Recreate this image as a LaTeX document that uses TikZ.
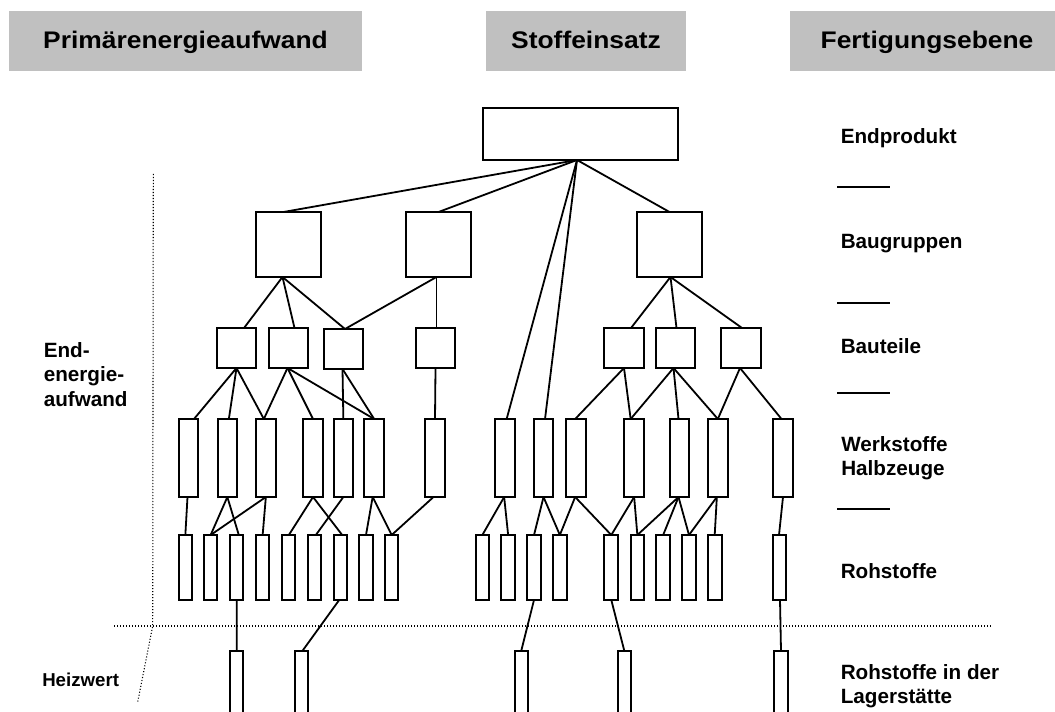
\documentclass[tikz,border=0pt]{standalone}
\usepackage{fontspec}
\setmainfont{Liberation Sans}
\newfontfamily\headfont[FakeStretch=1.1]{Liberation Sans}
\usetikzlibrary{fit,calc}
\definecolor{headgray}{RGB}{192,192,192}

% rectangle node spanning two corners (pixel units, y downwards)
\newcommand\blk[5]{\node[box, fit={(#2,#3) (#4,#5)}] (#1) {};}
% connector from the bottom of one node to the top of another, with x offsets
\newcommand\tielink[4]{\draw[link] ($(#1.south)+(#2,0)$) -- ($(#3.north)+(#4,0)$);}

\begin{document}
\begin{tikzpicture}[x=0.75pt,y=-0.75pt,
  box/.style={draw=black, line width=1.35pt, inner sep=0pt, outer sep=0pt, fill=white},
  headbox/.style={fill=headgray, draw=none, inner sep=0pt, outer sep=0pt},
  headtext/.style={font=\headfont\fontsize{18}{22}\selectfont\bfseries, inner sep=0pt, anchor=base},
  lbl/.style={font=\fontsize{15.5}{18}\selectfont\bfseries, inner sep=0pt, anchor=base west, align=left},
  smalllbl/.style={lbl, font=\fontsize{14}{17}\selectfont\bfseries},
  link/.style={line width=1.35pt},
  dotline/.style={line width=0.8pt, dash pattern=on 0.8pt off 1.45pt}]
\useasboundingbox (0,0) rectangle (1055,712);
\clip (0,0) rectangle (1055,712);

% column headings
\node[headbox, fit={(9,11) (362,71)}] (hdr1) {};
\node[headbox, fit={(486,11) (686,71)}] (hdr2) {};
\node[headbox, fit={(790,11) (1064,71)}] (hdr3) {};
\node[headtext] (hdr1t) at (185.5,48.5) {Primärenergieaufwand};
\node[headtext] (hdr2t) at (586,48.5) {Stoffeinsatz};
\node[headtext] (hdr3t) at (927,48.5) {Fertigungsebene};

% dotted boundaries
\coordinate (vtop) at (153.3,174);
\coordinate (vmid) at (152.7,626);
\coordinate (vbot) at (137.7,702);
\coordinate (hleft) at (114,626);
\coordinate (hright) at (992,626);
\draw[dotline] (vtop) -- (vmid) -- (vbot);
\draw[dotline] (hleft) -- (hright);

% end product
\blk{root}{483}{108}{678}{160}

% assemblies
\blk{bg1}{256}{212}{321}{277}
\blk{bg2}{406}{212}{471}{277}
\blk{bg3}{637}{212}{702}{277}

% parts
\blk{bt1}{217}{328}{256}{368}
\blk{bt2}{269}{328}{308}{368}
\blk{bt3}{324}{329}{363}{369}
\blk{bt4}{416}{328}{455}{368}
\blk{bt5}{604}{328}{644}{368}
\blk{bt6}{656}{328}{695}{368}
\blk{bt7}{721}{328}{761}{368}

% materials / semi-finished products
\blk{w1}{179}{419}{198}{497}
\blk{w2}{217.7}{419}{237}{497}
\blk{w3}{256}{419}{275.7}{497}
\blk{w4}{303.3}{419}{322.7}{497}
\blk{w5}{333.7}{419}{353}{497}
\blk{w6}{364.3}{419}{384}{497}
\blk{w7}{425}{419}{445}{497}
\blk{w8}{495}{419}{515.3}{497}
\blk{w9}{533.7}{419}{553.3}{497}
\blk{w10}{566.3}{419}{586}{497}
\blk{w11}{624.3}{419}{644}{497}
\blk{w12}{669.7}{419}{689.3}{497}
\blk{w13}{707.7}{419}{728}{497}
\blk{w14}{773.3}{419}{792.7}{497}

% raw materials
\blk{r1}{179}{535}{191.7}{600}
\blk{r2}{204}{535}{217.3}{600}
\blk{r3}{230.3}{535}{243.3}{600}
\blk{r4}{256}{535}{269.3}{600}
\blk{r5}{281.7}{535}{295}{600}
\blk{r6}{307.7}{535}{321}{600}
\blk{r7}{333.7}{535}{346.7}{600}
\blk{r8}{359.3}{535}{372.7}{600}
\blk{r9}{385}{535}{398.3}{600}
\blk{r10}{475.7}{535}{489}{600}
\blk{r11}{501.3}{535}{515}{600}
\blk{r12}{527.3}{535}{540.7}{600}
\blk{r13}{553}{535}{566.7}{600}
\blk{r14}{604.3}{535}{618.3}{600}
\blk{r15}{630.7}{535}{644}{600}
\blk{r16}{656.3}{535}{670}{600}
\blk{r17}{682.3}{535}{695.7}{600}
\blk{r18}{707.7}{535}{721.7}{600}
\blk{r19}{773}{535}{786}{600}

% deposits
\blk{l1}{230}{651}{243.3}{720}
\blk{l2}{294.7}{651}{308}{720}
\blk{l3}{514.7}{651}{527.7}{720}
\blk{l4}{617.7}{651}{631}{720}
\blk{l5}{774.3}{651}{787.7}{720}

% end product -> assemblies and materials
\tielink{root}{-3.5}{bg1}{-5}
\tielink{root}{-3.5}{bg2}{0}
\tielink{root}{-3.5}{bg3}{0}
\tielink{root}{-3.5}{w8}{1.5}
\tielink{root}{-3.5}{w9}{1.5}

% assemblies -> parts
\tielink{bg1}{-6}{bt1}{7.5}
\tielink{bg1}{-6}{bt2}{6}
\tielink{bg1}{-6}{bt3}{1.5}
\tielink{bg2}{-2}{bt3}{1.5}
\tielink{bg2}{-2}{bt4}{1}
\tielink{bg3}{1}{bt5}{7}
\tielink{bg3}{1}{bt6}{1}
\tielink{bg3}{1}{bt7}{1}

% parts -> materials
\tielink{bt1}{0}{w1}{5.5}
\tielink{bt1}{0}{w2}{1.5}
\tielink{bt1}{0}{w3}{-2}
\tielink{bt2}{-1}{w3}{-2}
\tielink{bt2}{-1}{w4}{0}
\tielink{bt2}{-1}{w6}{0}
\tielink{bt3}{-1}{w5}{0}
\tielink{bt3}{-1}{w6}{0}
\tielink{bt4}{0}{w7}{0}
\tielink{bt5}{0}{w10}{-1}
\tielink{bt5}{0}{w11}{-3.5}
\tielink{bt6}{-2}{w11}{-3.5}
\tielink{bt6}{-2}{w12}{-1}
\tielink{bt6}{-2}{w13}{0}
\tielink{bt7}{-1}{w13}{0}
\tielink{bt7}{-1}{w14}{-1.5}

% materials -> raw materials
\tielink{w1}{-1}{r1}{0}
\tielink{w2}{0}{r2}{0}
\tielink{w2}{0}{r3}{2}
\tielink{w3}{0}{r2}{0}
\tielink{w3}{0}{r4}{0}
\tielink{w4}{0}{r5}{0.5}
\tielink{w4}{0}{r7}{2}
\tielink{w5}{0}{r6}{1.5}
\tielink{w6}{-1.5}{r8}{0}
\tielink{w6}{-1.5}{r9}{0}
\tielink{w7}{-1.5}{r9}{0}
\tielink{w8}{-1}{r10}{0}
\tielink{w8}{-1}{r11}{0}
\tielink{w9}{0}{r12}{0}
\tielink{w9}{0}{r13}{0}
\tielink{w10}{-1}{r13}{0}
\tielink{w10}{-1}{r14}{0}
\tielink{w11}{0}{r14}{0}
\tielink{w11}{0}{r15}{0}
\tielink{w12}{-1}{r15}{0}
\tielink{w12}{-1}{r16}{0}
\tielink{w12}{-1}{r17}{0}
\tielink{w13}{-1}{r17}{0}
\tielink{w13}{-1}{r18}{0}
\tielink{w14}{0}{r19}{-0.5}

% raw materials -> deposits
\tielink{r3}{0}{l1}{0}
\tielink{r7}{-1}{l2}{1}
\tielink{r12}{0}{l3}{0}
\tielink{r14}{0}{l4}{0}
\tielink{r19}{0.5}{l5}{0}

% level names and separators (base anchor = last line)
\node[lbl] (lblend) at (840.5,143.3) {Endprodukt};
\draw[link] (837.3,186.7) -- (890,186.7);
\node[lbl] (lblbg) at (840.5,249) {Baugruppen};
\draw[link] (837.3,302.7) -- (890,302.7);
\node[lbl] (lblbt) at (840.5,353.3) {Bauteile};
\draw[link] (837.3,392.7) -- (890,392.7);
\node[lbl] (lblws) at (841,475) {Werkstoffe\\Halbzeuge};
\draw[link] (837.3,509.3) -- (890,509.3);
\node[lbl] (lblrs) at (840.5,578.3) {Rohstoffe};
\node[lbl] (lbllg) at (840.5,703.5) {Rohstoffe in der\\Lagerstätte};

% energy terms
\node[lbl] (lblee) at (43.5,406) {End-\\energie-\\aufwand};
\node[smalllbl] (lblhw) at (42,686) {Heizwert};
\end{tikzpicture}
\end{document}
